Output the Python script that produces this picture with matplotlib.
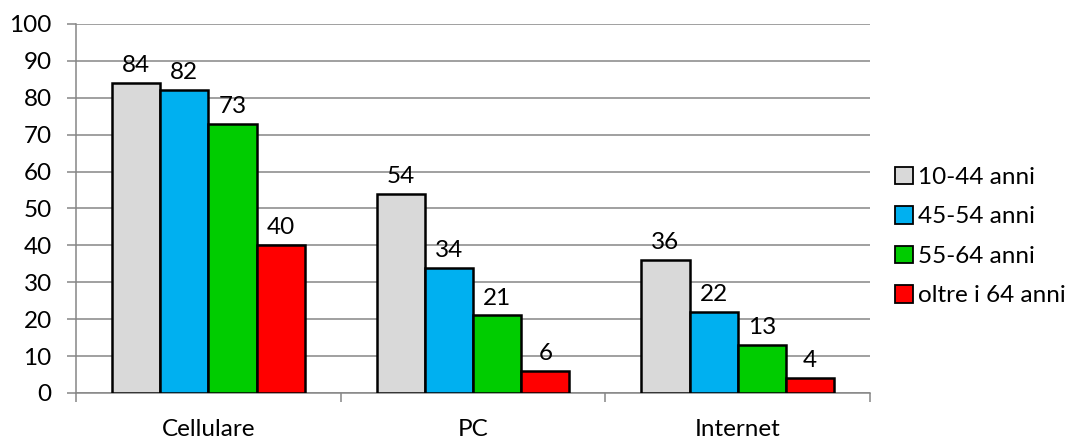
import numpy as np
import matplotlib
matplotlib.use("Agg")
import matplotlib.pyplot as plt
from matplotlib.patches import Patch

categories = ["Cellulare", "PC", "Internet"]
series_names = ["10-44 anni", "45-54 anni", "55-64 anni", "oltre i 64 anni"]
v_10_44 = [84, 54, 36]
v_45_54 = [82, 34, 22]
v_55_64 = [73, 21, 13]
v_oltre_64 = [40, 6, 4]
colors = ["#D9D9D9", "#00B0F0", "#00CC00", "#FF0000"]

plt.rcParams['font.family'] = ['Lato', 'DejaVu Sans']
FS = 17.5
GRID = "#868686"

fig = plt.figure(figsize=(10.69, 4.45), dpi=100)
ax = fig.add_axes([0.0711, 0.1169, 0.7428, 0.8292])

values = [v_10_44, v_45_54, v_55_64, v_oltre_64]
x = np.arange(len(categories))
w = 0.182
for i, (vals, c) in enumerate(zip(values, colors)):
    pos = x + (i - 1.5) * w
    bars = ax.bar(pos, vals, width=w, color=c, edgecolor="black", linewidth=1.8, zorder=3)
    for b, v in zip(bars, vals):
        ax.annotate(str(v), (b.get_x() + b.get_width() / 2, v), xytext=(0, 5),
                    textcoords="offset points", ha="center", va="bottom", fontsize=FS)

ax.set_xlim(-0.5, 2.5)
ax.set_ylim(0, 100)
ax.set_yticks(range(0, 101, 10))
ax.yaxis.grid(True, color=GRID, linewidth=1.1, zorder=0)
ax.set_axisbelow(True)

# category names centred, tick marks on the group boundaries
ax.set_xticks(x)
ax.set_xticklabels(categories, fontsize=FS)
ax.tick_params(axis="x", length=0, pad=19)
ax.set_xticks([-0.5, 0.5, 1.5, 2.5], minor=True)
ax.tick_params(axis="x", which="minor", length=6.5, color=GRID, width=1.1)
ax.tick_params(axis="y", length=6.5, color=GRID, width=1.1, labelsize=FS, pad=11)

for s in ["top", "right"]:
    ax.spines[s].set_visible(False)
for s in ["left", "bottom"]:
    ax.spines[s].set_color(GRID)
    ax.spines[s].set_linewidth(1.1)

handles = [Patch(facecolor=c, edgecolor="black", linewidth=1.3) for c in colors]
fig.legend(handles, series_names, loc="center left", bbox_to_anchor=(0.837, 0.4685),
           frameon=False, fontsize=FS, handlelength=0.74, handleheight=0.74,
           handletextpad=0.2, labelspacing=0.75, borderaxespad=0, borderpad=0)

fig.savefig("out.png", dpi=100)
